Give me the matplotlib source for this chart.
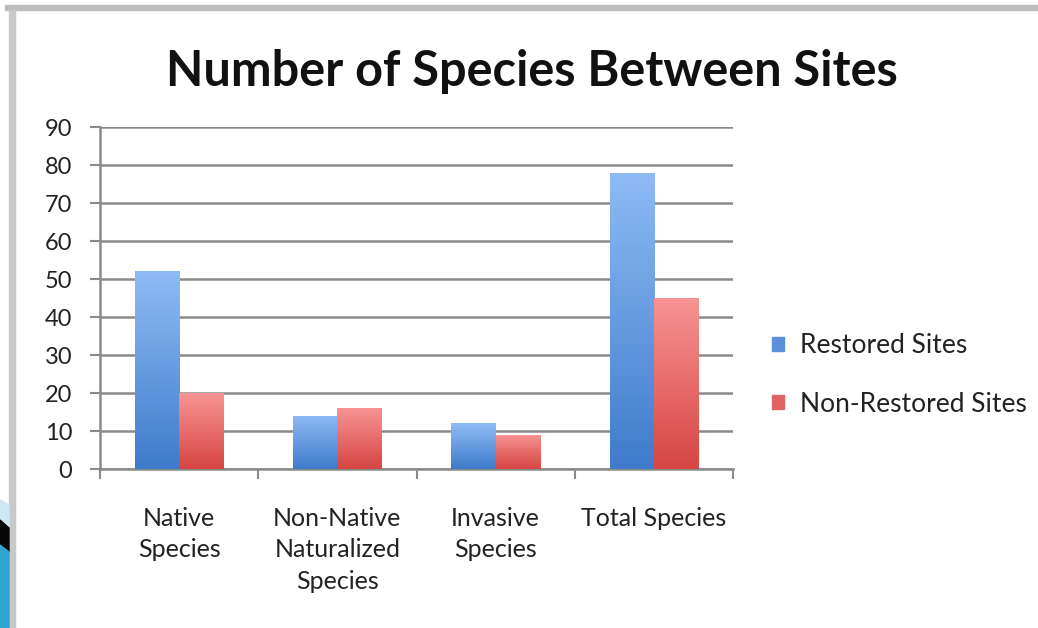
import matplotlib.pyplot as plt
import numpy as np
from matplotlib.patches import Rectangle, Polygon
from matplotlib.colors import LinearSegmentedColormap

categories = ['Native\nSpecies', 'Non-Native\nNaturalized\nSpecies', 'Invasive\nSpecies', 'Total Species']
restored = [52, 14, 12, 78]
non_restored = [20, 16, 9, 45]
series_names = ['Restored Sites', 'Non-Restored Sites']

plt.rcParams['font.family'] = ['Lato', 'DejaVu Sans']

fig = plt.figure(figsize=(10.38, 6.28), dpi=100)
fig.patch.set_facecolor('white')

# slide frame and corner decoration
W, H = 1038, 628
def px(x, y):
    return x / W, 1 - y / H
fig.patches.append(Rectangle(px(5, 10), 1, 5 / H, transform=fig.transFigure, color='#bdbdbd', zorder=0))
fig.patches.append(Rectangle(px(9, H), 6 / W, (H - 10) / H, transform=fig.transFigure, color='#c8c8c8', zorder=0))
fig.patches.append(Polygon([px(0, 500), px(9, 505), px(9, 528), px(0, 520)], closed=True,
                           transform=fig.transFigure, color='#cfe7f2', zorder=0))
fig.patches.append(Polygon([px(0, 520), px(9, 528), px(9, 552), px(0, 545)], closed=True,
                           transform=fig.transFigure, color='#050505', zorder=0))
fig.patches.append(Polygon([px(0, 545), px(9, 552), px(9, H), px(0, H)], closed=True,
                           transform=fig.transFigure, color='#2fa6cf', zorder=0))

ax = fig.add_axes([100 / W, 1 - 469 / H, 633 / W, 342 / H])

x = np.arange(len(categories))
width = 0.28
blue_cmap = LinearSegmentedColormap.from_list('b', ['#3f7bcb', '#8fbbf5'])
red_cmap = LinearSegmentedColormap.from_list('r', ['#d64543', '#f79493'])

bars_b = ax.bar(x - width / 2, restored, width, color='none', zorder=3, label=series_names[0])
bars_r = ax.bar(x + width / 2, non_restored, width, color='none', zorder=3, label=series_names[1])

grad = np.linspace(0, 1, 256).reshape(-1, 1)
for bars, cmap in ((bars_b, blue_cmap), (bars_r, red_cmap)):
    for b in bars:
        x0, y0 = b.get_x(), b.get_y()
        w, h = b.get_width(), b.get_height()
        im = ax.imshow(grad, cmap=cmap, origin='lower', aspect='auto',
                       extent=(x0, x0 + w, y0, y0 + h), zorder=3)
        im.set_clip_path(b)

ax.set_xlim(-0.5, len(categories) - 0.5)
ax.set_ylim(0, 90)
ax.set_yticks(np.arange(0, 91, 10))
ax.set_xticks(x)
ax.set_xticklabels(categories, fontsize=18, color='#222222', linespacing=1.45, va='top')
ax.set_xticks(np.arange(-0.5, len(categories), 1), minor=True)
ax.tick_params(axis='x', which='major', length=0, pad=27)
ax.tick_params(axis='x', which='minor', length=7, width=1.5, color='#8a8a8a')
ax.tick_params(axis='y', length=7, width=1.5, color='#8a8a8a', labelsize=17, labelcolor='#222222', pad=13)

ax.yaxis.grid(True, color='#8a8a8a', linewidth=1.8, zorder=0)
ax.set_axisbelow(True)
for s in ('top', 'right'):
    ax.spines[s].set_visible(False)
for s in ('left', 'bottom'):
    ax.spines[s].set_color('#8a8a8a')
    ax.spines[s].set_linewidth(1.8)

handles = [Rectangle((0, 0), 1, 1, color='#5b8fd6'), Rectangle((0, 0), 1, 1, color='#e06363')]
fig.legend(handles, series_names, loc='upper left', bbox_to_anchor=(772 / W, 1 - 333 / H),
           frameon=False, fontsize=19, handlelength=0.45, handleheight=0.45,
           handletextpad=0.6, labelspacing=1.27, borderpad=0, borderaxespad=0,
           labelcolor='#222222')

fig.text(532 / W, 1 - 71 / H, 'Number of Species Between Sites', ha='center', va='center',
         fontsize=35, fontweight='bold', color='#111111')

fig.savefig('out.png', dpi=100)
